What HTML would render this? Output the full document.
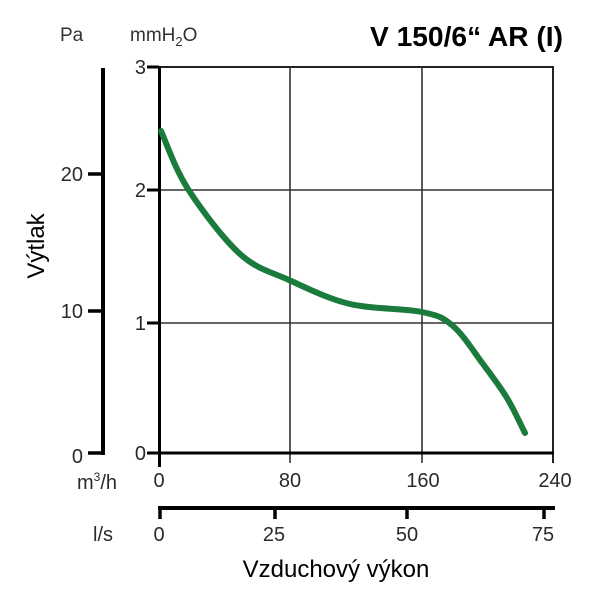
<!DOCTYPE html>
<html>
<head>
<meta charset="utf-8">
<style>
html,body{margin:0;padding:0;background:#fff;}
svg{display:block;}
text{font-family:"Liberation Sans",Arial,sans-serif;}
</style>
</head>
<body>
<svg width="600" height="600" viewBox="0 0 600 600" xmlns="http://www.w3.org/2000/svg">
  <rect width="600" height="600" fill="#fff"/>

  <!-- Title -->
  <text x="370" y="46" font-size="28" font-weight="bold" fill="#000" textLength="193" lengthAdjust="spacingAndGlyphs">V 150/6“ AR (I)</text>

  <!-- Unit labels -->
  <text x="60" y="41" font-size="19" fill="#333">Pa</text>
  <text x="130" y="41" font-size="19" fill="#333">mmH<tspan font-size="13" dy="5">2</tspan><tspan dy="-5">O</tspan></text>

  <!-- Pa axis -->
  <line x1="103" y1="68" x2="103" y2="455" stroke="#000" stroke-width="4"/>
  <line x1="88" y1="453" x2="105" y2="453" stroke="#000" stroke-width="3.5"/>
  <line x1="88" y1="174" x2="103" y2="174" stroke="#000" stroke-width="3.5"/>
  <line x1="88" y1="311" x2="103" y2="311" stroke="#000" stroke-width="3.5"/>
  <text x="83" y="181" font-size="20" fill="#2a2a2a" text-anchor="end">20</text>
  <text x="83" y="318" font-size="20" fill="#2a2a2a" text-anchor="end">10</text>
  <text x="83" y="463" font-size="20" fill="#2a2a2a" text-anchor="end">0</text>

  <!-- Y label -->
  <text transform="translate(44,246) rotate(-90)" font-size="24" fill="#000" text-anchor="middle">Výtlak</text>

  <!-- Grid -->
  <line x1="159" y1="67" x2="554" y2="67" stroke="#222" stroke-width="2"/>
  <line x1="553" y1="67" x2="553" y2="463" stroke="#222" stroke-width="2"/>
  <line x1="290" y1="67" x2="290" y2="463" stroke="#333" stroke-width="1.6"/>
  <line x1="422" y1="67" x2="422" y2="463" stroke="#333" stroke-width="1.6"/>
  <line x1="159" y1="190" x2="553" y2="190" stroke="#333" stroke-width="1.6"/>
  <line x1="159" y1="323" x2="553" y2="323" stroke="#333" stroke-width="1.6"/>

  <!-- mmH2O axis -->
  <line x1="159.5" y1="66" x2="159.5" y2="467" stroke="#000" stroke-width="3"/>
  <line x1="159" y1="453" x2="554" y2="453" stroke="#000" stroke-width="3"/>
  <line x1="147" y1="67" x2="159" y2="67" stroke="#000" stroke-width="3"/>
  <line x1="147" y1="190" x2="159" y2="190" stroke="#000" stroke-width="3"/>
  <line x1="147" y1="323" x2="159" y2="323" stroke="#000" stroke-width="3"/>
  <line x1="147" y1="453" x2="159" y2="453" stroke="#000" stroke-width="3"/>
  <text x="146" y="74" font-size="20" fill="#2a2a2a" text-anchor="end">3</text>
  <text x="146" y="197" font-size="20" fill="#2a2a2a" text-anchor="end">2</text>
  <text x="146" y="330" font-size="20" fill="#2a2a2a" text-anchor="end">1</text>
  <text x="146" y="460" font-size="20" fill="#2a2a2a" text-anchor="end">0</text>

  <!-- m3/h row -->
  <text x="77" y="489" font-size="20" fill="#2a2a2a">m<tspan font-size="12" dy="-8">3</tspan><tspan dy="8">/h</tspan></text>
  <text x="159" y="487" font-size="20" fill="#2a2a2a" text-anchor="middle">0</text>
  <text x="290" y="487" font-size="20" fill="#2a2a2a" text-anchor="middle">80</text>
  <text x="423" y="487" font-size="20" fill="#2a2a2a" text-anchor="middle">160</text>
  <text x="555" y="487" font-size="20" fill="#2a2a2a" text-anchor="middle">240</text>

  <!-- l/s axis -->
  <line x1="158" y1="508" x2="555" y2="508" stroke="#000" stroke-width="4"/>
  <line x1="160" y1="508" x2="160" y2="519" stroke="#000" stroke-width="3.5"/>
  <line x1="275" y1="508" x2="275" y2="519" stroke="#000" stroke-width="3.5"/>
  <line x1="407" y1="508" x2="407" y2="519" stroke="#000" stroke-width="3.5"/>
  <line x1="544" y1="508" x2="544" y2="519" stroke="#000" stroke-width="3.5"/>
  <text x="93" y="541" font-size="20" fill="#2a2a2a">l/s</text>
  <text x="159" y="541" font-size="20" fill="#2a2a2a" text-anchor="middle">0</text>
  <text x="274" y="541" font-size="20" fill="#2a2a2a" text-anchor="middle">25</text>
  <text x="407" y="541" font-size="20" fill="#2a2a2a" text-anchor="middle">50</text>
  <text x="543" y="541" font-size="20" fill="#2a2a2a" text-anchor="middle">75</text>

  <!-- X label -->
  <text x="336" y="577" font-size="24" fill="#000" text-anchor="middle">Vzduchový výkon</text>

  <!-- Curve -->
  <path fill="none" stroke="#1b7b3c" stroke-width="6" stroke-linecap="round" stroke-linejoin="round"
    d="M161,131 C165.5,140.7 174.8,168.5 188,189 C201.2,209.5 223.2,238.8 240,254 C256.8,269.2 270.7,271.7 289,280 C307.3,288.3 327.8,298.7 350,304 C372.2,309.3 404.8,308.3 422,312 C439.2,315.7 442.8,317.3 453,326 C463.2,334.7 474,352 483,364 C492,376 500,386.5 507,398 C514,409.5 522,427.2 525,433"/>
</svg>
</body>
</html>
